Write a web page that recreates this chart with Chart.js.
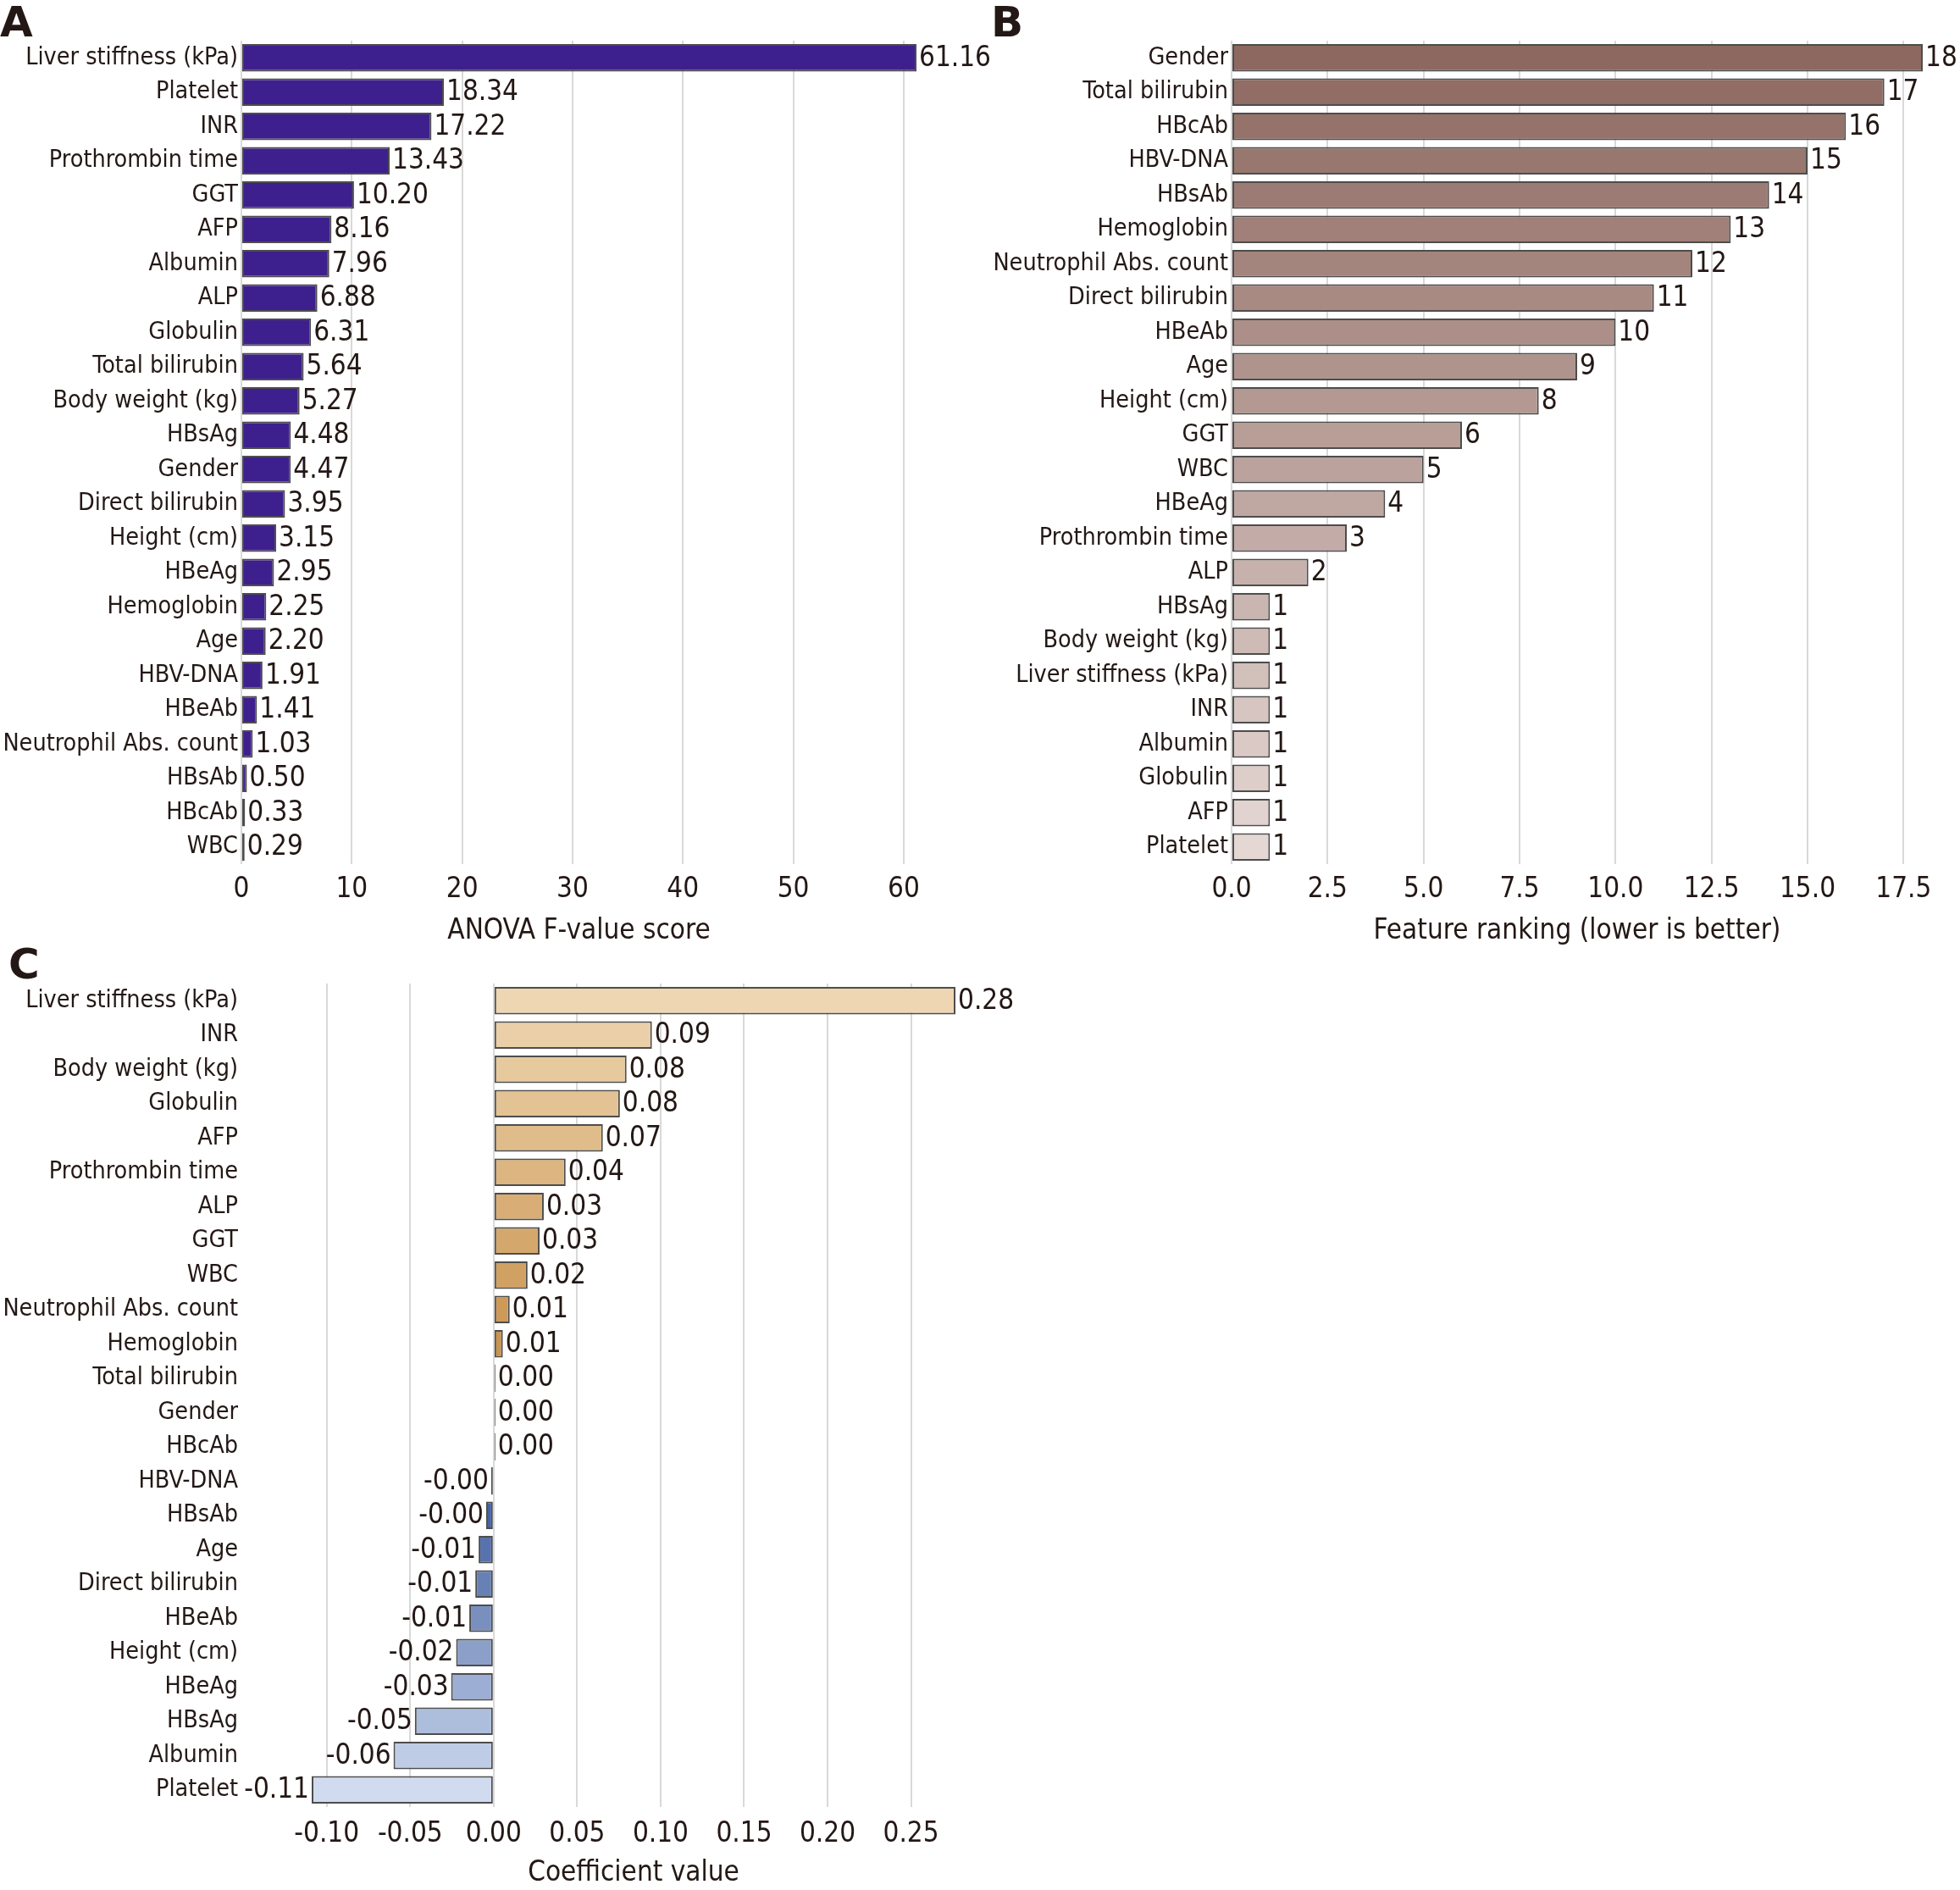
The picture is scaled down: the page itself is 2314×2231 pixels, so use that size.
<!DOCTYPE html>
<html>
<head>
<meta charset="utf-8">
<script src="https://cdn.jsdelivr.net/npm/chart.js@4.4.1/dist/chart.umd.min.js"></script>
<style>
body{margin:0;background:#fff;width:2314px;height:2231px;position:relative;overflow:hidden;}
.panel{position:absolute;}
.tag{position:absolute;font-family:"DejaVu Sans";font-weight:bold;font-size:50px;line-height:50px;color:#231815;}
</style>
</head>
<body>

<div class="tag" style="left:0px;top:1px">A</div>
<div class="tag" style="left:1170px;top:1px">B</div>
<div class="tag" style="left:10px;top:1113px">C</div>

<canvas id="chartA" class="panel" width="1180" height="1130" style="left:0px;top:0px"></canvas>
<canvas id="chartB" class="panel" width="1164" height="1130" style="left:1150px;top:0px"></canvas>
<canvas id="chartC" class="panel" width="1250" height="1121" style="left:0px;top:1110px"></canvas>

<script>

// -------------------------------------
// DATA
// -------------------------------------

const labelsA = ["Liver stiffness (kPa)","Platelet","INR","Prothrombin time","GGT","AFP","Albumin","ALP","Globulin","Total bilirubin","Body weight (kg)","HBsAg","Gender","Direct bilirubin","Height (cm)","HBeAg","Hemoglobin","Age","HBV-DNA","HBeAb","Neutrophil Abs. count","HBsAb","HBcAb","WBC"];
const valuesA = [61.16,18.34,17.22,13.43,10.20,8.16,7.96,6.88,6.31,5.64,5.27,4.48,4.47,3.95,3.15,2.95,2.25,2.20,1.91,1.41,1.03,0.50,0.33,0.29];
const ticksA = [0,10,20,30,40,50,60];

const labelsB = ["Gender","Total bilirubin","HBcAb","HBV-DNA","HBsAb","Hemoglobin","Neutrophil Abs. count","Direct bilirubin","HBeAb","Age","Height (cm)","GGT","WBC","HBeAg","Prothrombin time","ALP","HBsAg","Body weight (kg)","Liver stiffness (kPa)","INR","Albumin","Globulin","AFP","Platelet"];
const valuesB = [18,17,16,15,14,13,12,11,10,9,8,6,5,4,3,2,1,1,1,1,1,1,1,1];
const ticksB = [0,2.5,5,7.5,10,12.5,15,17.5];

const labelsC = ["Liver stiffness (kPa)","INR","Body weight (kg)","Globulin","AFP","Prothrombin time","ALP","GGT","WBC","Neutrophil Abs. count","Hemoglobin","Total bilirubin","Gender","HBcAb","HBV-DNA","HBsAb","Age","Direct bilirubin","HBeAb","Height (cm)","HBeAg","HBsAg","Albumin","Platelet"];
const valuesC = [0.2766,0.0948,0.0796,0.0756,0.0654,0.0431,0.0300,0.0275,0.0203,0.0096,0.0055,0.0008,0.0005,0.0003,-0.0015,-0.0045,-0.0090,-0.0110,-0.0146,-0.0225,-0.0255,-0.0472,-0.0600,-0.1090];
const ticksC = [-0.10,-0.05,0.00,0.05,0.10,0.15,0.20,0.25];


// -------------------------------------
// STYLE HELPERS
// -------------------------------------

const textColor = "#231815";
const fontFamily = "'DejaVu Sans Condensed', 'Noto Sans', sans-serif";

function lerpColors(c1, c2, n){
const out = [];
for(let i = 0; i < n; i++){
const t = n > 1 ? i / (n - 1) : 0;
const c = c1.map((v, k) => Math.round(v + (c2[k] - v) * t));
out.push("rgb(" + c.join(",") + ")");
}
return out;
}

const colorsA = labelsA.map(() => "#3e1f8e");
const colorsB = lerpColors([141,104,96], [229,216,212], labelsB.length);
const posCount = valuesC.filter(v => v >= 0).length;
const colorsC = lerpColors([238,214,178], [190,128,48], posCount)
.concat(lerpColors([52,84,152], [208,219,240], valuesC.length - posCount));

function valueLabels(fmt){
return {
id: "valueLabels",
afterDatasetsDraw(chart){
const ctx = chart.ctx;
const meta = chart.getDatasetMeta(0);
const data = chart.data.datasets[0].data;
ctx.save();
ctx.font = "33px " + fontFamily;
ctx.fillStyle = textColor;
ctx.textBaseline = "middle";
meta.data.forEach((bar, i) => {
const v = data[i];
if(v < 0){
ctx.textAlign = "right";
ctx.fillText(fmt(v), bar.x - 3, bar.y + 1);
}else{
ctx.textAlign = "left";
ctx.fillText(fmt(v), bar.x + 3, bar.y + 1);
}
});
ctx.restore();
}
};
}


// -------------------------------------
// CHART BUILDER
// -------------------------------------

function drawPanel(id, cfg){

const ctx = document.getElementById(id).getContext("2d");

new Chart(ctx, {

type: "bar",

data: {
labels: cfg.labels,
datasets: [{
data: cfg.values,
backgroundColor: cfg.colors,
borderColor: "#4d4d4d",
borderWidth: 2,
borderSkipped: false,
barPercentage: 0.8,
categoryPercentage: 1,
minBarLength: 2
}]
},

options: {
indexAxis: "y",
responsive: false,
animation: false,
devicePixelRatio: 1,
layout: { padding: { left: 0, right: cfg.padRight, top: cfg.padTop, bottom: 0 } },
plugins: { legend: { display: false }, tooltip: { enabled: false } },
scales: {
x: {
type: "linear",
min: cfg.min,
max: cfg.max,
afterBuildTicks: s => { s.ticks = cfg.ticks.map(v => ({ value: v })); },
afterFit: s => { s.height = cfg.xHeight; s.paddingLeft = 0; s.paddingRight = 0; },
grid: { color: "#d9d9d9", lineWidth: 2, drawTicks: false },
border: { display: false },
ticks: {
padding: cfg.xPad,
color: textColor,
font: { family: fontFamily, size: 33 },
maxRotation: 0,
autoSkip: false,
callback: v => cfg.fmtTick(v)
},
title: {
display: true,
text: cfg.title,
color: textColor,
font: { family: fontFamily, size: 33 },
padding: { top: 0, bottom: cfg.titlePad }
}
},
y: {
type: "category",
afterFit: s => { s.width = cfg.yWidth; s.paddingTop = 0; s.paddingBottom = 0; },
grid: { display: false, drawTicks: false },
border: { display: false },
ticks: {
padding: cfg.yPad,
color: textColor,
font: { family: fontFamily, size: 28.5 },
autoSkip: false
}
}
}
},

plugins: [valueLabels(cfg.fmtValue)]

});

}


// -------------------------------------
// PANELS
// -------------------------------------

drawPanel("chartA", {
labels: labelsA, values: valuesA, colors: colorsA, ticks: ticksA,
min: 0, max: Math.max(...valuesA),
title: "ANOVA F-value score",
fmtTick: v => String(v), fmtValue: v => v.toFixed(2),
padRight: 98, padTop: 48, xHeight: 110, yWidth: 285, yPad: 4, xPad: 11, titlePad: 11
});

drawPanel("chartB", {
labels: labelsB, values: valuesB, colors: colorsB, ticks: ticksB,
min: 0, max: Math.max(...valuesB),
title: "Feature ranking (lower is better)",
fmtTick: v => v.toFixed(1), fmtValue: v => String(v),
padRight: 44, padTop: 48, xHeight: 110, yWidth: 304, yPad: 4, xPad: 11, titlePad: 11
});

drawPanel("chartC", {
labels: labelsC, values: valuesC, colors: colorsC, ticks: ticksC,
min: Math.min(...valuesC), max: Math.max(...valuesC),
title: "Coefficient value",
fmtTick: v => v.toFixed(2), fmtValue: v => v.toFixed(2),
padRight: 122, padTop: 51, xHeight: 98, yWidth: 368, yPad: 87, xPad: 13, titlePad: 0
});

</script>
</body>
</html>
